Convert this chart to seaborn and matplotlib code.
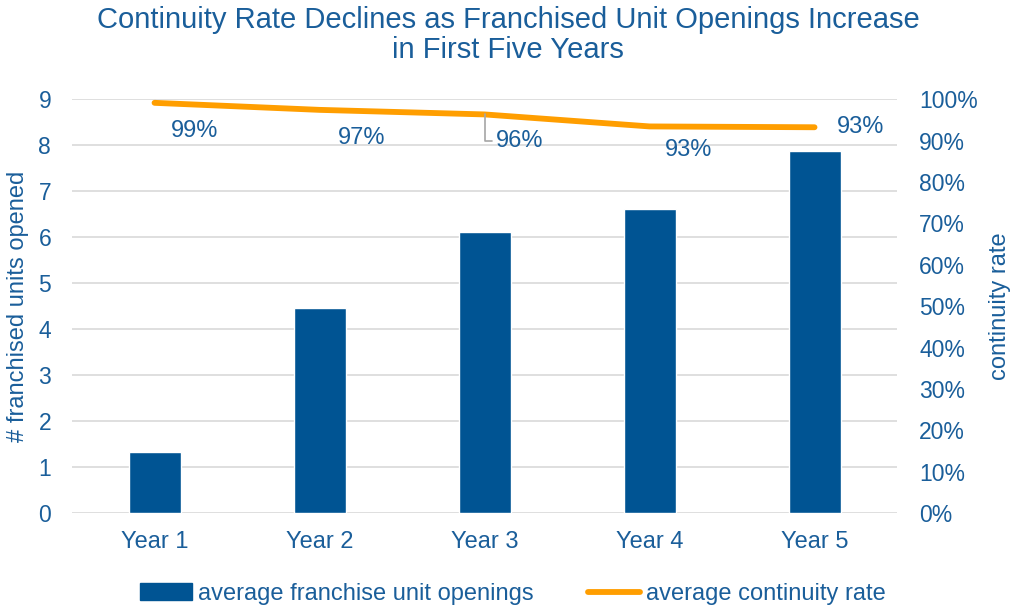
import matplotlib
matplotlib.use("Agg")
import matplotlib.pyplot as plt
import matplotlib.ticker as mticker
from matplotlib.patches import Patch
from matplotlib.lines import Line2D
import seaborn as sns
import pandas as pd

# ---- data ----
years = ["Year 1", "Year 2", "Year 3", "Year 4", "Year 5"]
unit_openings = [1.33, 4.46, 6.11, 6.61, 7.87]
continuity_rate = [0.991, 0.974, 0.963, 0.934, 0.932]
left_ticks = list(range(0, 10))
right_ticks = [i / 10 for i in range(0, 11)]

title = "Continuity Rate Declines as Franchised Unit Openings Increase\nin First Five Years"
bar_label = "average franchise unit openings"
line_label = "average continuity rate"

# ---- style ----
BLUE = "#005493"
ORANGE = "#FF9E00"
TEXT = "#1A5E9A"
GRID = "#D9D9D9"
label_offsets = [(29, -20), (30, -20), (25, -19), (28, -17), (33, 0)]  # points

sns.set_theme(style="white")
plt.rcParams["font.family"] = ["Liberation Sans", "DejaVu Sans"]

df = pd.DataFrame({"year": years, "openings": unit_openings, "rate": continuity_rate})

fig = plt.figure(figsize=(10.16, 6.08), dpi=100)
ax = fig.add_axes([0.0709, 0.156, 0.812, 0.681])

sns.barplot(data=df, x="year", y="openings", color=BLUE, width=0.315,
            saturation=1, ax=ax, zorder=3)
ax.set_ylim(0, 9)
ax.set_yticks(left_ticks)
ax.set_xlim(-0.5, 4.5)
ax.grid(axis="y", color=GRID, linewidth=1.2, zorder=0)
ax.set_axisbelow(True)
for s in ax.spines.values():
    s.set_visible(False)
ax.tick_params(axis="both", length=0, colors=TEXT)
ax.tick_params(axis="x", pad=13, labelsize=17)
ax.tick_params(axis="y", pad=15, labelsize=16.5)
ax.set_xlabel("")
ax.set_ylabel("# franchised units opened", fontsize=17, color=TEXT, labelpad=7)

ax2 = ax.twinx()
sns.lineplot(x=list(range(len(years))), y=continuity_rate, color=ORANGE,
             linewidth=4.2, ax=ax2, solid_capstyle="round")
ax2.set_ylim(0, 1)
ax2.set_yticks(right_ticks)
ax2.yaxis.set_major_formatter(mticker.PercentFormatter(1.0, decimals=0))
for s in ax2.spines.values():
    s.set_visible(False)
ax2.tick_params(axis="y", length=0, labelsize=16.5, colors=TEXT, pad=16)
ax2.set_ylabel("continuity rate", fontsize=17, color=TEXT, labelpad=8)
ax2.set_xlim(-0.5, 4.5)

for i, (v, off) in enumerate(zip(continuity_rate, label_offsets)):
    kw = {}
    if i == 2:
        kw["arrowprops"] = dict(arrowstyle="-", color="#A6A6A6", lw=1.2,
                                connectionstyle="angle,angleA=0,angleB=90,rad=0",
                                shrinkA=0, shrinkB=0,
                                relpos=(0, 0.5))
    ax2.annotate(f"{v:.0%}", xy=(i, v), xytext=off, textcoords="offset points",
                 ha="center", va="center", fontsize=17, color=TEXT, **kw)

fig.suptitle(title, fontsize=21, color=TEXT, y=0.99, linespacing=1.1)

handles = [Patch(facecolor=BLUE, edgecolor=BLUE),
           Line2D([0], [0], color=ORANGE, linewidth=4.2)]
fig.legend(handles, [bar_label, line_label], loc="lower center",
           bbox_to_anchor=(0.5045, -0.03), ncol=2, frameon=False, fontsize=17,
           labelcolor=TEXT, handlelength=2.2, handleheight=0.7,
           handletextpad=0.25, columnspacing=2.3)

fig.savefig("out.png", dpi=100)
